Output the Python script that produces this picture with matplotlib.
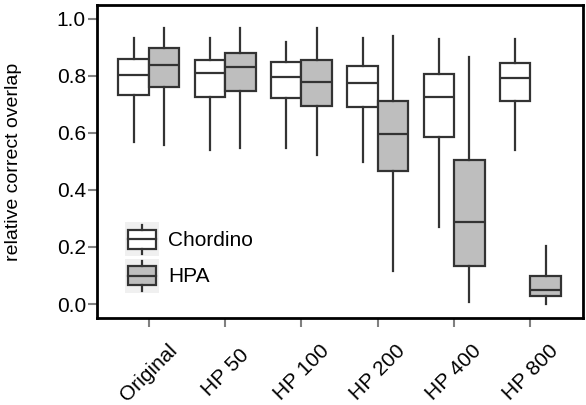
import matplotlib
matplotlib.use('Agg')
import matplotlib.pyplot as plt
from matplotlib.legend_handler import HandlerBase
from matplotlib.patches import Rectangle
from matplotlib.lines import Line2D

plt.rcParams['font.family'] = ['Liberation Sans', 'DejaVu Sans']

categories = ['Original', 'HP 50', 'HP 100', 'HP 200', 'HP 400', 'HP 800']
series_names = ['Chordino', 'HPA']

chordino_whishi = [0.934, 0.934, 0.918, 0.934, 0.928, 0.928]
chordino_q3 = [0.858, 0.855, 0.848, 0.835, 0.806, 0.846]
chordino_med = [0.803, 0.810, 0.795, 0.776, 0.726, 0.793]
chordino_q1 = [0.731, 0.727, 0.721, 0.690, 0.587, 0.711]
chordino_whislo = [0.569, 0.540, 0.548, 0.497, 0.271, 0.540]

hpa_whishi = [0.966, 0.966, 0.967, 0.941, 0.867, 0.202]
hpa_q3 = [0.896, 0.879, 0.854, 0.711, 0.505, 0.099]
hpa_med = [0.838, 0.830, 0.779, 0.596, 0.286, 0.050]
hpa_q1 = [0.759, 0.747, 0.694, 0.465, 0.132, 0.029]
hpa_whislo = [0.557, 0.548, 0.521, 0.117, 0.007, 0.000]

yticks = [0.0, 0.2, 0.4, 0.6, 0.8, 1.0]

EDGE = '#333333'
FILLS = ['#ffffff', '#bebebe']
LW = 1.6


def stats(lo, q1, med, q3, hi):
    return [dict(whislo=a, q1=b, med=c, q3=d, whishi=e, fliers=[])
            for a, b, c, d, e in zip(lo, q1, med, q3, hi)]


fig = plt.figure(figsize=(5.86, 4.05), dpi=100)
ax = fig.add_axes([97 / 586, 1 - 318 / 405, (583 - 97) / 586, (318 - 5) / 405])

all_stats = [
    stats(chordino_whislo, chordino_q1, chordino_med, chordino_q3, chordino_whishi),
    stats(hpa_whislo, hpa_q1, hpa_med, hpa_q3, hpa_whishi),
]
offsets = [-0.2, 0.2]
for st, off, fc in zip(all_stats, offsets, FILLS):
    pos = [i + off for i in range(len(categories))]
    ax.bxp(st, positions=pos, widths=0.4, patch_artist=True, showcaps=False,
           showfliers=False,
           boxprops=dict(facecolor=fc, edgecolor=EDGE, linewidth=LW),
           medianprops=dict(color=EDGE, linewidth=LW),
           whiskerprops=dict(color=EDGE, linewidth=LW))

ax.set_xlim(-0.68, 5.69)
ax.set_ylim(-0.049, 1.048)
ax.set_xticks(range(len(categories)))
ax.set_xticklabels(categories, rotation=45, ha='center', va='center',
                   rotation_mode='anchor', fontsize=15)
ax.set_yticks(yticks)
ax.set_yticklabels([f'{v:.1f}' for v in yticks], fontsize=15)
ax.tick_params(axis='x', length=6.5, width=1.5, color='#808080', pad=33)
ax.tick_params(axis='y', length=6.5, width=1.5, color='#808080', pad=1.5,
               labelcolor='black')
for s in ax.spines.values():
    s.set_linewidth(2.0)
    s.set_color('black')
ax.set_ylabel('relative correct overlap', fontsize=14)
ax.yaxis.set_label_coords(-0.154, 0.5)


class BoxHandler(HandlerBase):
    def __init__(self, fc):
        super().__init__()
        self.fc = fc

    def create_artists(self, legend, orig_handle, xdescent, ydescent,
                       width, height, fontsize, trans):
        x0, y0 = -xdescent, -ydescent
        bg = Rectangle((x0, y0), width, height, facecolor='#f0f0f0',
                       edgecolor='none', transform=trans)
        box = Rectangle((x0 + 0.08 * width, y0 + 0.22 * height), 0.84 * width,
                        0.56 * height, facecolor=self.fc, edgecolor=EDGE,
                        linewidth=LW, transform=trans)
        xm = x0 + width / 2
        w1 = Line2D([xm, xm], [y0 + 0.06 * height, y0 + 0.22 * height],
                    color=EDGE, lw=LW, transform=trans)
        w2 = Line2D([xm, xm], [y0 + 0.78 * height, y0 + 0.94 * height],
                    color=EDGE, lw=LW, transform=trans)
        med = Line2D([x0 + 0.08 * width, x0 + 0.92 * width],
                     [y0 + 0.5 * height, y0 + 0.5 * height],
                     color=EDGE, lw=LW, transform=trans)
        return [bg, box, w1, w2, med]


handles = [Rectangle((0, 0), 1, 1) for _ in series_names]
leg = ax.legend(handles, series_names,
                handler_map={handles[0]: BoxHandler(FILLS[0]),
                             handles[1]: BoxHandler(FILLS[1])},
                loc='upper left', bbox_to_anchor=(125 / 586, 1 - 222.5 / 405),
                bbox_transform=fig.transFigure, frameon=False,
                fontsize=15, handlelength=1.63, handleheight=2.13,
                labelspacing=0.12, handletextpad=0.45, borderpad=0,
                borderaxespad=0)

fig.savefig('out.png', dpi=100)
